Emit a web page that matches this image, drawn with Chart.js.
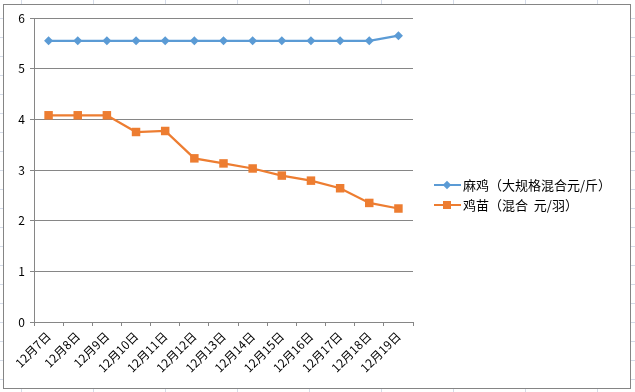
<!DOCTYPE html>
<html>
<head>
<meta charset="utf-8">
<script src="https://cdn.jsdelivr.net/npm/chart.js@4/dist/chart.umd.min.js"></script>
<style>
  html, body { margin: 0; padding: 0; }
  body {
    width: 635px; height: 392px; position: relative; overflow: hidden;
    background-color: #fff;
    background-image:
      linear-gradient(to right, #d4dbe8 1px, transparent 1px),
      linear-gradient(to bottom, #d4dbe8 1px, transparent 1px);
    background-size: 72px 19px;
    background-position: 21px 18px;
    font-family: "Noto Sans CJK SC", sans-serif;
  }
  #frame {
    position: absolute; left: 3px; top: 4px; width: 628px; height: 385px;
    box-sizing: border-box; border: 1px solid #858585; background: #fff;
  }
  #frame canvas { position: absolute; left: 0; top: 0; }
  .legend { position: absolute; left: 430px; font-size: 13px; color: #000; }
  .legend .row { position: relative; height: 20px; line-height: 20px; padding-left: 29px; white-space: pre; }
  .legend .ln { position: absolute; left: 0; top: 9px; width: 27px; height: 2px; }
  .legend .mk { position: absolute; }
</style>
</head>
<body>
<div id="frame">
  <canvas id="chart" width="626" height="383"></canvas>
  <div class="legend" id="legend" style="top:170px"></div>
</div>
<script>
// categories and values
const categories = ["12月7日", "12月8日", "12月9日", "12月10日", "12月11日", "12月12日", "12月13日",
  "12月14日", "12月15日", "12月16日", "12月17日", "12月18日", "12月19日"]
const maJi = [5.55, 5.55, 5.55, 5.55, 5.55, 5.55, 5.55, 5.55, 5.55, 5.55, 5.55, 5.55, 5.65]
const jiMiao = [4.08, 4.08, 4.08, 3.75, 3.77, 3.23, 3.13, 3.03, 2.89, 2.79, 2.64, 2.35, 2.24]
const seriesNames = ["麻鸡（大规格混合元/斤）", "鸡苗（混合  元/羽）"]
const yTicks = [0, 1, 2, 3, 4, 5, 6]

const BLUE = "#5B9BD5"
const ORANGE = "#ED7D31"
const GRID = "#868686"
const FONT = { family: '"Noto Sans CJK SC", sans-serif', size: 12 }

new Chart(document.getElementById("chart"), {
  type: "line",
  data: {
    labels: categories,
    datasets: [
      {
        label: seriesNames[0],
        data: maJi,
        borderColor: BLUE,
        backgroundColor: BLUE,
        borderWidth: 2.25,
        pointStyle: "rectRot",
        pointRadius: 4.5,
        pointBorderWidth: 0,
        tension: 0,
      },
      {
        label: seriesNames[1],
        data: jiMiao,
        borderColor: ORANGE,
        backgroundColor: ORANGE,
        borderWidth: 2.25,
        pointStyle: "rect",
        pointRadius: 6,
        pointBorderWidth: 0,
        tension: 0,
      },
    ],
  },
  options: {
    responsive: false,
    animation: false,
    layout: { padding: { left: 0, top: 13, right: 217, bottom: 0 } },
    plugins: { legend: { display: false }, tooltip: { enabled: false } },
    scales: {
      x: {
        offset: true,
        grid: { offset: true, drawOnChartArea: false, drawTicks: true, tickLength: 4, color: GRID },
        border: { color: GRID, width: 1 },
        ticks: { color: "#000", font: FONT, minRotation: 45, maxRotation: 45, padding: 3, autoSkip: false },
        afterFit: (s) => { s.height = 66 },
      },
      y: {
        min: yTicks[0],
        max: yTicks[yTicks.length - 1],
        grid: { color: GRID, tickLength: 4, lineWidth: 1 },
        border: { color: GRID, width: 1 },
        afterBuildTicks: (s) => { s.ticks = yTicks.map((v) => ({ value: v })) },
        ticks: { color: "#000", font: FONT, padding: 5 },
        afterFit: (s) => { s.width = 30 },
      },
    },
  },
})

// legend (line + marker + name), Excel style
const legend = document.getElementById("legend")
const colors = [BLUE, ORANGE]
seriesNames.forEach((name, i) => {
  const row = document.createElement("div")
  row.className = "row"
  const ln = document.createElement("span")
  ln.className = "ln"
  ln.style.background = colors[i]
  const mk = document.createElement("span")
  mk.className = "mk"
  mk.style.background = colors[i]
  if (i === 0) {
    mk.style.cssText += "left:10px;top:6.5px;width:6px;height:6px;transform:rotate(45deg);"
  } else {
    mk.style.cssText += "left:9px;top:6px;width:8px;height:8px;"
  }
  row.appendChild(ln)
  row.appendChild(mk)
  row.appendChild(document.createTextNode(name))
  legend.appendChild(row)
})
</script>
</body>
</html>
